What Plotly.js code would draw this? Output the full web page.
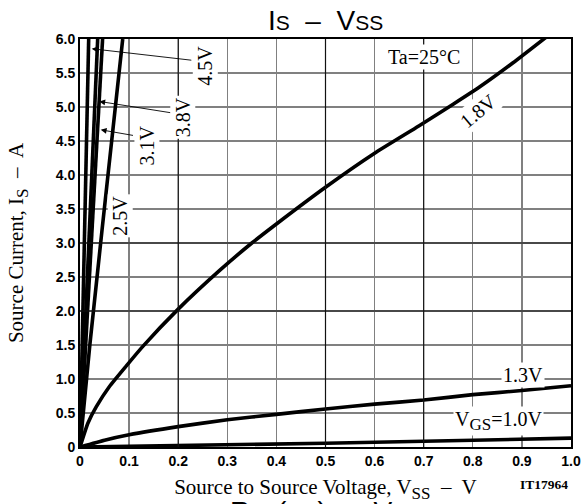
<!DOCTYPE html>
<html>
<head>
<meta charset="utf-8">
<script src="https://cdn.plot.ly/plotly-3.0.1.min.js"></script>
<style>html,body{margin:0;padding:0;background:#fff;}#chart{width:584px;height:504px;}</style>
</head>
<body>
<div id="chart"></div>
<script>
// ---- data ----
const vss_45 = [0, 0.0177];
const is_45  = [0, 6.0];
const vss_38 = [0, 0.018, 0.036];
const is_38  = [0, 3.0, 6.0];
const vss_31 = [0, 0.022, 0.046];
const is_31  = [0, 2.9, 6.0];
const vss_25 = [0, 0.02, 0.045, 0.087];
const is_25  = [0, 1.5, 3.2, 6.0];
const vss_18 = [0, 0.016, 0.033, 0.06, 0.094, 0.128, 0.199, 0.285, 0.35, 0.4, 0.5, 0.6, 0.69, 0.76, 0.815, 0.882, 0.95];
const is_18  = [0, 0.35, 0.59, 0.89, 1.19, 1.48, 2.02, 2.60, 3.00, 3.28, 3.82, 4.32, 4.72, 5.04, 5.30, 5.65, 6.03];
const vss_13 = [0, 0.05, 0.1, 0.2, 0.3, 0.4, 0.5, 0.6, 0.7, 0.8, 0.9, 1.0];
const is_13  = [0, 0.10, 0.18, 0.30, 0.40, 0.48, 0.56, 0.63, 0.69, 0.77, 0.83, 0.90];
const vss_10 = [0, 0.1, 0.3, 0.5, 0.7, 0.9, 1.0];
const is_10  = [0, 0.01, 0.03, 0.055, 0.085, 0.115, 0.13];

const xTickVals = [0, 0.1, 0.2, 0.3, 0.4, 0.5, 0.6, 0.7, 0.8, 0.9, 1.0];
const xTickText = ['0', '0.1', '0.2', '0.3', '0.4', '0.5', '0.6', '0.7', '0.8', '0.9', '1.0'];
const yTickVals = [0, 0.5, 1, 1.5, 2, 2.5, 3, 3.5, 4, 4.5, 5, 5.5, 6];
const yTickText = ['0', '0.5', '1.0', '1.5', '2.0', '2.5', '3.0', '3.5', '4.0', '4.5', '5.0', '5.5', '6.0'];
// grid lines that print darker in the reference scan
const darkGridX = [0.2, 0.5, 0.7];
const darkGridY = [2.0, 3.0];

// ---- chart ----
const SERIF = 'Liberation Serif, Times New Roman, serif';
const SANS = 'Liberation Sans, Arial, sans-serif';
const curve = (x, y, smooth) => ({x: x, y: y, type: 'scatter', mode: 'lines',
  line: smooth ? {color: '#000', width: 3.6, shape: 'spline', smoothing: 0.5} : {color: '#000', width: 3.6},
  hoverinfo: 'skip', showlegend: false});

const traces = [
  curve(vss_45, is_45), curve(vss_38, is_38), curve(vss_31, is_31), curve(vss_25, is_25),
  curve(vss_18, is_18, true), curve(vss_13, is_13, true), curve(vss_10, is_10)
];

const lab = (text, x, y, angle) => ({text: text, x: x, y: y, xref: 'x', yref: 'y',
  showarrow: false, textangle: angle || 0, bgcolor: '#fff', borderpad: 1,
  font: {family: SERIF, size: 20, color: '#000'}});
const arrow = (x, y, ax, ay) => ({text: ' ', x: x, y: y, ax: ax, ay: ay, xref: 'x', yref: 'y',
  axref: 'x', ayref: 'y', showarrow: true, arrowhead: 2, arrowsize: 1.3, arrowwidth: 0.9,
  arrowcolor: '#000', font: {size: 2}});

const annotations = [
  arrow(0.0238, 5.857, 0.2308, 5.685),
  arrow(0.0393, 5.082, 0.1888, 4.911),
  arrow(0.0422, 4.665, 0.112, 4.577),
  lab('4.5V', 0.2546, 5.607, -90),
  lab('3.8V', 0.2088, 4.842, -90),
  lab('3.1V', 0.1358, 4.43, -90),
  lab('2.5V', 0.0815, 3.40, -90),
  lab('1.8V', 0.8106, 4.945, -40),
  lab('1.3V', 0.903, 1.06, 0),
  lab('V<sub><span style="font-size:17px">GS</span></sub>=1.0V', 0.853, 0.383, 0),
  lab('Ta=25°C', 0.70, 5.74, 0),
  {text: '<b>IT17964</b>', x: 0.945, y: -0.093, xref: 'paper', yref: 'paper',
   xanchor: 'center', yanchor: 'middle', showarrow: false,
   font: {family: SERIF, size: 13.5, color: '#000'}},
  {text: 'R<span style="font-size:20px">SS</span>(on)  –  V<span style="font-size:20px">GS</span>',
   x: 0.5, y: -0.114, xref: 'paper', yref: 'paper', xanchor: 'center', yanchor: 'top', showarrow: false,
   font: {family: SANS, size: 28, color: '#000'}}
];

const shapes = [];
darkGridX.forEach(v => shapes.push({type: 'line', xref: 'x', yref: 'paper', x0: v, x1: v, y0: 0, y1: 1,
  layer: 'above', line: {color: '#111', width: 1.2}}));
darkGridY.forEach(v => shapes.push({type: 'line', xref: 'paper', yref: 'y', x0: 0, x1: 1, y0: v, y1: v,
  layer: 'above', line: {color: '#111', width: 1.2}}));

const axisCommon = {
  showgrid: true, gridcolor: '#808080', gridwidth: 1.4,
  showline: true, linecolor: '#000', linewidth: 2, mirror: true,
  zeroline: false, ticks: '',
  tickfont: {family: SANS, size: 14, color: '#000', weight: 'bold'}
};

const layout = {
  width: 584, height: 504,
  margin: {l: 80, r: 13, t: 39, b: 57},
  paper_bgcolor: '#fff', plot_bgcolor: '#fff',
  showlegend: false,
  title: {text: 'I<span style="font-size:21px">S</span>  –  V<span style="font-size:21px">SS</span>',
    x: 0.5575, xanchor: 'center', y: 0.96, yanchor: 'middle',
    font: {family: SANS, size: 28, color: '#000'}},
  xaxis: Object.assign({}, axisCommon, {
    range: [0, 1], tickmode: 'array', tickvals: xTickVals, ticktext: xTickText,
    title: {text: 'Source to Source Voltage, V<sub><span style="font-size:17px">SS</span></sub>  –  V',
      font: {family: SERIF, size: 21, color: '#000'}, standoff: 12}
  }),
  yaxis: Object.assign({}, axisCommon, {
    range: [0, 6], tickmode: 'array', tickvals: yTickVals, ticktext: yTickText,
    title: {text: 'Source Current, I<sub><span style="font-size:17px">S</span></sub>  –  A',
      font: {family: SERIF, size: 21, color: '#000'}, standoff: 26}
  }),
  shapes: shapes,
  annotations: annotations
};

Plotly.newPlot('chart', traces, layout, {staticPlot: true, displayModeBar: false});
</script>
</body>
</html>
